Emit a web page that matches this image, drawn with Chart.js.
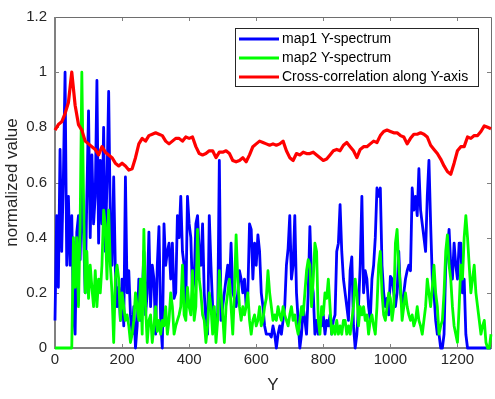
<!DOCTYPE html>
<html>
<head>
<meta charset="utf-8">
<script src="https://cdn.jsdelivr.net/npm/chart.js@4.4.1/dist/chart.umd.min.js"></script>
<style>
  html, body { margin: 0; padding: 0; background: #fff; }
  canvas { display: block; }
</style>
</head>
<body>
<canvas id="spectrumChart" width="495" height="399"></canvas>
<script>
// sample spacing along Y (pixels of the maps)
const spectrumStep = 5;
const corrStep = 10;

// map1 Y-spectrum, one value every 5 units, from Y=0 to Y=1300
const map1Spectrum = [
  0.10,0.48,0.22,0.72,0.35,0.62,1.00,0.30,0.55,0.30,
  0.48,0.12,0.05,0.42,0.48,0.32,0.62,0.42,0.20,0.55,
  0.86,0.40,0.70,0.45,0.55,0.97,0.38,0.68,0.45,0.80,
  0.35,0.60,0.93,0.45,0.30,0.62,0.28,0.15,0.22,0.10,
  0.25,0.08,0.62,0.20,0.28,0.12,0.05,0.15,0.00,0.08,
  0.25,0.10,0.18,0.35,0.12,0.20,0.42,0.15,0.30,0.25,
  0.05,0.30,0.44,0.10,0.00,0.45,0.30,0.35,0.38,0.25,
  0.38,0.18,0.20,0.48,0.40,0.55,0.35,0.30,0.15,0.55,
  0.45,0.40,0.20,0.25,0.45,0.48,0.35,0.30,0.45,0.20,
  0.10,0.05,0.48,0.30,0.15,0.10,0.12,0.10,0.68,0.10,
  0.15,0.20,0.25,0.30,0.22,0.38,0.20,0.18,0.15,0.20,
  0.28,0.25,0.20,0.25,0.15,0.20,0.45,0.43,0.25,0.38,
  0.30,0.41,0.35,0.20,0.15,0.08,0.05,0.05,0.05,0.04,
  0.08,0.05,0.00,0.05,0.08,0.05,0.10,0.15,0.30,0.36,
  0.48,0.25,0.30,0.48,0.20,0.10,0.00,0.05,0.15,0.10,
  0.05,0.20,0.44,0.25,0.20,0.05,0.10,0.05,0.10,0.08,
  0.12,0.05,0.10,0.08,0.12,0.05,0.10,0.12,0.35,0.38,
  0.52,0.35,0.25,0.20,0.15,0.10,0.28,0.33,0.08,0.00,
  0.05,0.15,0.30,0.55,0.20,0.28,0.25,0.15,0.10,0.25,
  0.30,0.40,0.58,0.55,0.58,0.30,0.20,0.15,0.18,0.12,
  0.26,0.25,0.20,0.15,0.20,0.35,0.20,0.15,0.20,0.25,
  0.28,0.30,0.28,0.58,0.50,0.55,0.48,0.65,0.50,0.45,
  0.40,0.35,0.55,0.68,0.45,0.25,0.20,0.10,0.05,0.05,
  0.00,0.00,0.05,0.30,0.35,0.43,0.30,0.25,0.38,0.30,
  0.25,0.38,0.38,0.20,0.25,0.05,0.00,0.00,0.00,0.00,
  0.00,0.00,0.00,0.00,0.00,0.00,0.00,0.00,0.00,0.00,0.00
];

// map2 Y-spectrum, same sampling
const map2Spectrum = [
  0.00,0.00,0.00,0.00,0.00,0.00,0.00,0.00,0.00,0.00,
  0.00,0.40,0.22,0.40,0.15,0.45,1.00,0.55,0.20,0.35,
  0.18,0.30,0.22,0.15,0.28,0.15,0.25,0.20,0.30,0.50,
  0.45,0.25,0.50,0.30,0.20,0.02,0.25,0.30,0.25,0.10,
  0.20,0.15,0.10,0.12,0.08,0.02,0.05,0.10,0.20,0.15,
  0.10,0.25,0.05,0.43,0.15,0.02,0.10,0.12,0.02,0.08,
  0.15,0.06,0.10,0.05,0.10,0.08,0.15,0.05,0.10,0.20,
  0.15,0.05,0.08,0.10,0.12,0.15,0.30,0.12,0.10,0.22,
  0.15,0.12,0.28,0.10,0.15,0.43,0.25,0.20,0.12,0.10,
  0.02,0.08,0.20,0.15,0.05,0.15,0.02,0.10,0.28,0.20,
  0.12,0.02,0.15,0.20,0.25,0.15,0.05,0.20,0.41,0.25,
  0.15,0.10,0.15,0.12,0.15,0.20,0.10,0.05,0.10,0.12,
  0.08,0.10,0.15,0.08,0.10,0.15,0.18,0.28,0.20,0.15,
  0.10,0.12,0.10,0.15,0.12,0.10,0.15,0.12,0.10,0.08,
  0.12,0.15,0.10,0.12,0.08,0.05,0.10,0.15,0.12,0.20,
  0.28,0.32,0.30,0.15,0.25,0.38,0.35,0.10,0.05,0.15,
  0.12,0.20,0.18,0.25,0.15,0.05,0.08,0.05,0.10,0.05,
  0.08,0.05,0.10,0.10,0.05,0.08,0.05,0.10,0.15,0.25,
  0.20,0.08,0.15,0.12,0.15,0.10,0.12,0.05,0.10,0.12,
  0.08,0.05,0.15,0.30,0.35,0.20,0.12,0.10,0.15,0.20,
  0.18,0.10,0.15,0.38,0.43,0.30,0.22,0.10,0.15,0.20,
  0.15,0.12,0.10,0.12,0.08,0.10,0.15,0.10,0.08,0.05,
  0.10,0.15,0.25,0.20,0.15,0.22,0.30,0.20,0.15,0.05,
  0.08,0.10,0.20,0.35,0.41,0.30,0.25,0.15,0.08,0.05,
  0.02,0.15,0.30,0.25,0.40,0.48,0.40,0.30,0.20,0.25,
  0.30,0.20,0.15,0.10,0.05,0.08,0.10,0.02,0.00,0.00,0.05
];

// cross-correlation, one value every 10 units
const crossCorr = [
  0.79,0.81,0.82,0.85,0.89,1.00,0.88,0.81,0.79,0.75,
  0.74,0.73,0.72,0.70,0.73,0.71,0.70,0.69,0.67,0.66,
  0.67,0.66,0.645,0.65,0.69,0.74,0.76,0.75,0.77,0.775,
  0.78,0.775,0.77,0.75,0.74,0.75,0.76,0.76,0.75,0.765,
  0.76,0.765,0.73,0.705,0.70,0.705,0.715,0.715,0.69,0.71,
  0.71,0.715,0.705,0.68,0.675,0.68,0.69,0.675,0.70,0.73,
  0.74,0.75,0.745,0.74,0.735,0.74,0.735,0.74,0.75,0.715,
  0.69,0.68,0.705,0.70,0.71,0.705,0.705,0.71,0.70,0.69,
  0.68,0.685,0.70,0.715,0.72,0.715,0.735,0.745,0.73,0.715,
  0.69,0.72,0.73,0.73,0.74,0.75,0.745,0.77,0.785,0.79,
  0.785,0.78,0.78,0.77,0.765,0.74,0.76,0.775,0.775,0.78,
  0.775,0.765,0.735,0.72,0.705,0.685,0.66,0.64,0.63,0.67,
  0.715,0.73,0.73,0.765,0.76,0.77,0.77,0.785,0.805,0.80,
  0.795
];

const seriesNames = ['map1 Y-spectrum', 'map2 Y-spectrum', 'Cross-correlation along Y-axis'];
const xTicks = [0, 200, 400, 600, 800, 1000, 1200];
const yTicks = [0, 0.2, 0.4, 0.6, 0.8, 1, 1.2];

const FONT = "'Liberation Sans', Arial, Helvetica, sans-serif";
const AXIS_GRAY = '#808080';
const TEXT_DARK = '#262626';

function toPoints(values, step) {
  return values.map((v, i) => ({ x: i * step, y: v }));
}

// box with inward ticks on all four sides (drawn under the data, like matlab)
const matlabFrame = {
  id: 'matlabFrame',
  beforeDatasetsDraw(chart) {
    const { ctx, chartArea: a, scales } = chart;
    const tl = 4;
    ctx.save();
    ctx.strokeStyle = AXIS_GRAY;
    ctx.lineWidth = 1;
    ctx.beginPath();
    xTicks.forEach(t => {
      const px = Math.round(scales.x.getPixelForValue(t)) + 0.5;
      ctx.moveTo(px, a.bottom); ctx.lineTo(px, a.bottom - tl);
      ctx.moveTo(px, a.top); ctx.lineTo(px, a.top + tl);
    });
    yTicks.forEach(t => {
      const py = Math.round(scales.y.getPixelForValue(t)) + 0.5;
      ctx.moveTo(a.left, py); ctx.lineTo(a.left + tl, py);
      ctx.moveTo(a.right, py); ctx.lineTo(a.right - tl, py);
    });
    ctx.stroke();

    // thin top / right edges
    ctx.strokeStyle = '#6e6e6e';
    ctx.beginPath();
    ctx.moveTo(a.left, a.top + 0.5); ctx.lineTo(a.right + 0.5, a.top + 0.5);
    ctx.lineTo(a.right + 0.5, a.bottom);
    ctx.stroke();

    // heavier left / bottom axes
    ctx.strokeStyle = AXIS_GRAY;
    ctx.lineWidth = 2;
    ctx.beginPath();
    ctx.moveTo(a.left, a.top); ctx.lineTo(a.left, a.bottom);
    ctx.lineTo(a.right + 1, a.bottom);
    ctx.stroke();
    ctx.restore();
  },
  // legend box, top right inside the axes
  afterDatasetsDraw(chart) {
    const { ctx, chartArea: a } = chart;
    ctx.save();
    const boxR = a.right - 13, boxT = a.top + 11, boxW = 243, rowH = 19;
    const boxL = boxR - boxW, boxH = rowH * 3 + 1;
    ctx.fillStyle = '#fff';
    ctx.fillRect(boxL, boxT, boxW, boxH);
    ctx.strokeStyle = TEXT_DARK;
    ctx.lineWidth = 1;
    ctx.strokeRect(boxL + 0.5, boxT + 0.5, boxW, boxH);
    ctx.font = '14px ' + FONT;
    ctx.textBaseline = 'middle';
    ctx.textAlign = 'left';
    const legendOrder = [2, 1, 0]; // dataset index of map1, map2, corr
    legendOrder.forEach((di, row) => {
      const ds = chart.data.datasets[di];
      const cy = boxT + 11 + row * rowH;
      ctx.strokeStyle = ds.borderColor;
      ctx.lineWidth = 3;
      ctx.beginPath();
      ctx.moveTo(boxL + 4, cy); ctx.lineTo(boxL + 44, cy);
      ctx.stroke();
      ctx.fillStyle = '#000';
      ctx.fillText(ds.label, boxL + 47, cy);
    });
    ctx.restore();
  }
};

new Chart(document.getElementById('spectrumChart').getContext('2d'), {
  type: 'line',
  data: {
    datasets: [
      { label: seriesNames[2], data: toPoints(crossCorr, corrStep), borderColor: '#ff0000', borderWidth: 3.2, order: 1 },
      { label: seriesNames[1], data: toPoints(map2Spectrum, spectrumStep), borderColor: '#00ff00', borderWidth: 2.8, order: 2 },
      { label: seriesNames[0], data: toPoints(map1Spectrum, spectrumStep), borderColor: '#0000ff', borderWidth: 2.8, order: 3 }
    ]
  },
  options: {
    responsive: false,
    animation: false,
    devicePixelRatio: 1,
    datasets: { line: { clip: 4 } },
    elements: {
      point: { radius: 0 },
      line: { tension: 0, borderJoinStyle: 'round', borderCapStyle: 'butt' }
    },
    layout: { padding: { left: 0, right: 4, top: 11, bottom: 0 } },
    plugins: {
      legend: { display: false },
      tooltip: { enabled: false }
    },
    scales: {
      x: {
        type: 'linear',
        min: 0,
        max: 1300,
        afterBuildTicks: s => { s.ticks = xTicks.map(v => ({ value: v })); },
        afterFit: s => { s.height = 51; },
        grid: { display: false, drawTicks: false },
        border: { display: false },
        ticks: { color: TEXT_DARK, font: { family: FONT, size: 15 }, padding: 3, maxRotation: 0, callback: v => String(v) },
        title: { display: true, text: 'Y', color: TEXT_DARK, font: { family: FONT, size: 17 }, padding: { top: 0, bottom: 3 } }
      },
      y: {
        min: 0,
        max: 1.2,
        afterBuildTicks: s => { s.ticks = yTicks.map(v => ({ value: v })); },
        afterFit: s => { s.width = 55; },
        grid: { display: false, drawTicks: false },
        border: { display: false },
        ticks: { color: TEXT_DARK, font: { family: FONT, size: 15 }, padding: 8, callback: v => String(Math.round(v * 10) / 10) },
        title: { display: true, text: 'normalized value', color: TEXT_DARK, font: { family: FONT, size: 17 }, padding: { top: 2, bottom: 0 } }
      }
    }
  },
  plugins: [matlabFrame]
});
</script>
</body>
</html>
